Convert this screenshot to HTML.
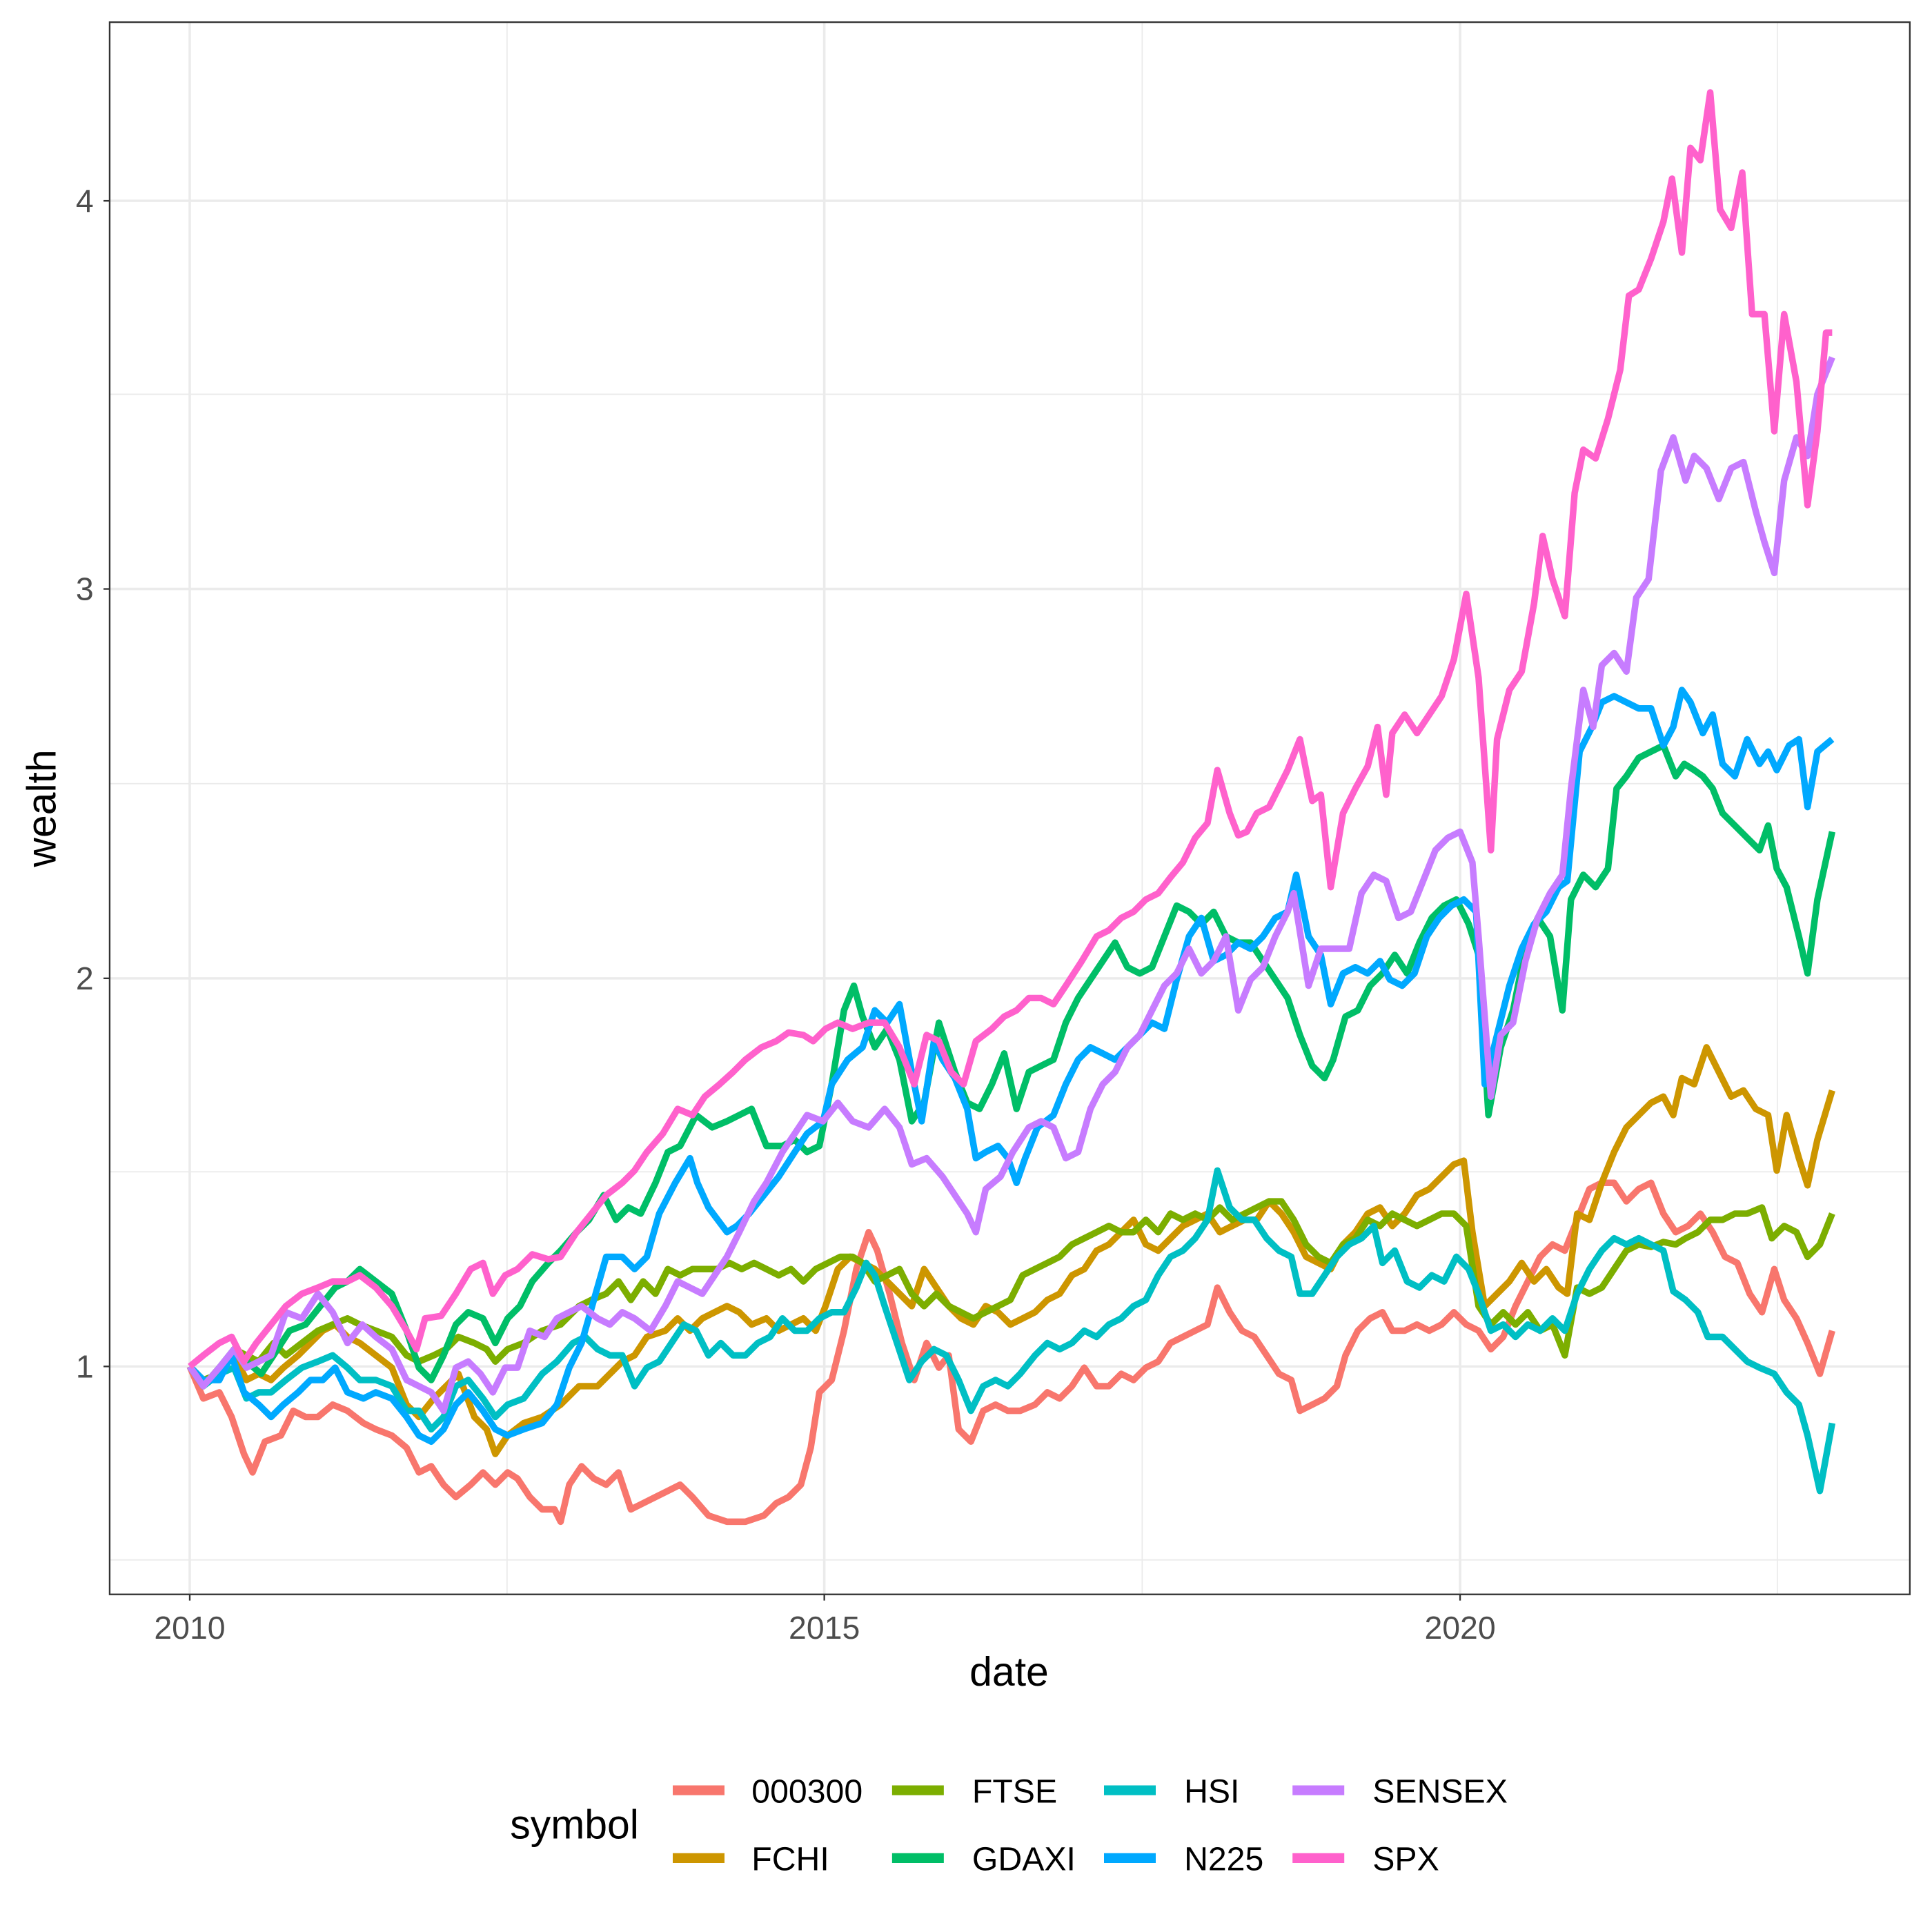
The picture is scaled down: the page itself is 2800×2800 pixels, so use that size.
<!DOCTYPE html>
<html><head><meta charset="utf-8"><style>html,body{margin:0;padding:0;background:#fff}svg{display:block}</style></head><body>
<svg width="2800" height="2800" viewBox="0 0 1568 1568" xmlns="http://www.w3.org/2000/svg" font-family="Liberation Sans, Arial, sans-serif">
<rect width="1568" height="1568" fill="#fff"/>
<g stroke="#ebebeb" stroke-width="1">
<line x1="89" x2="1550" y1="320" y2="320"/><line x1="89" x2="1550" y1="636" y2="636"/><line x1="89" x2="1550" y1="951" y2="951"/><line x1="89" x2="1550" y1="1266" y2="1266"/>
<line y1="18" y2="1294" x1="411.5" x2="411.5"/><line y1="18" y2="1294" x1="927" x2="927"/><line y1="18" y2="1294" x1="1442.5" x2="1442.5"/>
</g>
<g stroke="#ebebeb" stroke-width="2">
<line x1="89" x2="1550" y1="163" y2="163"/><line x1="89" x2="1550" y1="478" y2="478"/><line x1="89" x2="1550" y1="794" y2="794"/><line x1="89" x2="1550" y1="1109" y2="1109"/>
<line y1="18" y2="1294" x1="154" x2="154"/><line y1="18" y2="1294" x1="669" x2="669"/><line y1="18" y2="1294" x1="1185" x2="1185"/>
</g>
<g fill="none" stroke-width="5.3" stroke-linejoin="round" stroke-linecap="butt">
<polyline stroke="#F8766D" points="154,1109 165,1135 178,1130 188,1150 198,1180 205,1195 215,1170 228,1165 238,1145 248,1150 258,1150 270,1140 282,1145 295,1155 305,1160 318,1165 330,1175 340,1195 350,1190 360,1205 370,1215 382,1205 392,1195 402,1205 412,1195 420,1200 430,1215 440,1225 450,1225 455,1235 462,1205 472,1190 482,1200 492,1205 502,1195 512,1225 522,1220 532,1215 542,1210 552,1205 562,1215 575,1230 590,1235 605,1235 620,1230 630,1220 640,1215 650,1205 658,1175 665,1130 675,1120 685,1080 695,1030 705,1000 712,1015 722,1050 732,1090 742,1120 752,1090 762,1110 770,1100 778,1160 788,1170 798,1145 808,1140 818,1145 828,1145 840,1140 850,1130 860,1135 870,1125 880,1110 890,1125 900,1125 910,1115 920,1120 930,1110 940,1105 950,1090 960,1085 970,1080 980,1075 988,1045 998,1065 1008,1080 1018,1085 1028,1100 1038,1115 1048,1120 1055,1145 1065,1140 1075,1135 1085,1125 1092,1100 1102,1080 1112,1070 1122,1065 1130,1080 1140,1080 1150,1075 1160,1080 1170,1075 1180,1065 1190,1075 1200,1080 1210,1095 1220,1085 1230,1060 1240,1040 1250,1020 1260,1010 1270,1015 1280,990 1290,965 1300,960 1310,960 1320,975 1330,965 1340,960 1350,985 1360,1000 1370,995 1380,985 1390,1000 1400,1020 1410,1025 1420,1050 1430,1065 1440,1030 1448,1055 1458,1070 1467,1090 1477,1115 1487,1080"/>
<polyline stroke="#CD9600" points="154,1109 165,1125 178,1110 190,1100 200,1120 210,1115 220,1120 230,1110 242,1100 252,1090 262,1080 272,1075 282,1085 292,1090 305,1100 318,1110 330,1140 340,1150 352,1135 362,1125 372,1115 385,1150 395,1160 402,1180 412,1165 425,1155 440,1150 455,1140 470,1125 485,1125 495,1115 505,1105 515,1100 525,1085 540,1080 550,1070 560,1080 570,1070 580,1065 590,1060 600,1065 610,1075 622,1070 632,1080 642,1075 652,1070 662,1080 670,1060 680,1030 690,1020 700,1025 710,1030 720,1040 730,1050 740,1060 750,1030 760,1045 770,1060 780,1070 790,1075 800,1060 810,1065 820,1075 830,1070 840,1065 850,1055 860,1050 870,1035 880,1030 890,1015 900,1010 910,1000 920,990 930,1010 940,1015 950,1005 960,995 970,990 980,985 990,1000 1000,995 1010,990 1020,990 1030,975 1040,985 1050,1000 1060,1020 1070,1025 1080,1030 1090,1010 1100,1000 1110,985 1120,980 1130,995 1140,985 1150,970 1160,965 1170,955 1180,945 1188,942 1195,1000 1205,1060 1215,1050 1225,1040 1235,1025 1245,1040 1255,1030 1265,1045 1272,1050 1280,985 1290,990 1300,960 1310,935 1320,915 1330,905 1340,895 1350,890 1358,905 1365,875 1375,880 1385,850 1395,870 1405,890 1415,885 1425,900 1435,905 1442,950 1450,905 1460,940 1467,962 1475,925 1487,885"/>
<polyline stroke="#7CAE00" points="154,1109 165,1120 178,1115 190,1095 200,1100 210,1105 222,1090 232,1100 245,1090 258,1080 270,1075 282,1070 292,1075 305,1080 318,1085 330,1100 340,1105 352,1100 362,1095 372,1085 385,1090 395,1095 402,1105 412,1095 425,1090 440,1080 455,1075 470,1060 480,1055 492,1050 502,1040 512,1055 522,1040 532,1050 542,1030 552,1035 562,1030 572,1030 582,1030 592,1025 602,1030 612,1025 622,1030 632,1035 642,1030 652,1040 662,1030 672,1025 682,1020 692,1020 700,1025 710,1040 720,1035 730,1030 740,1050 750,1060 760,1050 770,1060 780,1065 790,1070 800,1065 810,1060 820,1055 830,1035 840,1030 850,1025 860,1020 870,1010 880,1005 890,1000 900,995 910,1000 920,1000 930,990 940,1000 950,985 960,990 970,985 980,990 990,980 1000,990 1010,985 1020,980 1030,975 1040,975 1050,990 1060,1010 1070,1020 1080,1025 1090,1010 1100,1005 1110,990 1120,995 1130,985 1140,990 1150,995 1160,990 1170,985 1180,985 1190,995 1200,1060 1210,1075 1220,1065 1230,1075 1240,1065 1250,1080 1260,1075 1270,1100 1280,1045 1290,1050 1300,1045 1310,1030 1320,1015 1330,1010 1340,1012 1350,1008 1360,1010 1368,1005 1378,1000 1388,990 1398,990 1408,985 1418,985 1430,980 1438,1005 1448,995 1458,1000 1467,1020 1477,1010 1487,985"/>
<polyline stroke="#00BE67" points="154,1109 165,1125 178,1110 190,1095 200,1105 212,1115 222,1100 235,1080 248,1075 260,1060 272,1045 282,1040 292,1030 305,1040 318,1050 330,1080 340,1110 350,1120 360,1100 370,1075 380,1065 392,1070 402,1090 412,1070 422,1060 432,1040 445,1025 455,1015 468,1000 478,990 490,970 500,990 510,980 520,985 532,960 542,935 552,930 565,905 578,915 590,910 600,905 610,900 622,930 635,930 645,925 655,935 665,930 675,880 685,820 693,800 700,825 710,850 720,835 730,860 740,910 750,895 762,830 775,870 785,895 795,900 805,880 815,855 825,900 835,870 845,865 855,860 865,830 875,810 885,795 895,780 905,765 915,785 925,790 935,785 945,760 955,735 965,740 975,750 985,740 995,760 1005,765 1015,765 1025,780 1035,795 1045,810 1055,840 1065,865 1075,875 1082,860 1092,825 1102,820 1112,800 1122,790 1132,775 1142,790 1152,765 1162,745 1172,735 1182,730 1192,750 1200,775 1208,905 1218,850 1228,820 1238,770 1248,745 1258,760 1268,820 1275,730 1285,710 1295,720 1305,705 1312,640 1320,630 1330,615 1340,610 1350,605 1360,630 1367,620 1375,625 1382,630 1390,640 1398,660 1408,670 1418,680 1428,690 1435,670 1442,705 1450,720 1460,760 1467,790 1475,730 1487,675"/>
<polyline stroke="#00BFC4" points="154,1109 165,1125 178,1115 190,1110 200,1135 210,1130 220,1130 232,1120 245,1110 258,1105 270,1100 282,1110 292,1120 305,1120 318,1125 330,1145 340,1145 350,1160 360,1150 370,1125 380,1120 392,1135 402,1150 412,1140 425,1135 440,1115 452,1105 465,1090 475,1085 485,1095 495,1100 505,1100 515,1125 525,1110 535,1105 545,1090 555,1075 565,1080 575,1100 585,1090 595,1100 605,1100 615,1090 625,1085 635,1070 645,1080 655,1080 665,1070 675,1065 685,1065 695,1045 703,1025 710,1035 718,1060 728,1090 738,1120 748,1105 758,1095 768,1100 778,1120 788,1145 798,1125 808,1120 818,1125 828,1115 840,1100 850,1090 860,1095 870,1090 880,1080 890,1085 900,1075 910,1070 920,1060 930,1055 940,1035 950,1020 960,1015 970,1005 980,990 988,950 998,980 1008,990 1018,990 1028,1005 1038,1015 1048,1020 1055,1050 1065,1050 1075,1035 1085,1020 1095,1010 1105,1005 1115,995 1122,1025 1132,1015 1142,1040 1152,1045 1162,1035 1172,1040 1182,1020 1192,1030 1200,1050 1210,1080 1220,1075 1230,1085 1240,1075 1250,1080 1260,1070 1270,1080 1280,1050 1290,1030 1300,1015 1310,1005 1320,1010 1330,1005 1340,1010 1350,1015 1358,1048 1368,1055 1378,1065 1386,1085 1398,1085 1408,1095 1418,1105 1428,1110 1440,1115 1450,1130 1460,1140 1467,1165 1477,1210 1487,1155"/>
<polyline stroke="#00A9FF" points="154,1109 165,1120 178,1120 188,1100 198,1130 210,1140 220,1150 230,1140 242,1130 252,1120 262,1120 272,1110 282,1130 295,1135 305,1130 318,1135 330,1150 340,1165 350,1170 360,1160 370,1140 380,1130 392,1145 402,1160 412,1165 425,1160 440,1155 452,1140 462,1110 472,1090 482,1055 492,1020 505,1020 515,1030 525,1020 535,985 548,960 560,940 566,960 575,980 590,1000 598,995 608,985 620,970 632,955 645,935 655,920 668,910 675,880 688,860 700,850 710,820 720,830 730,815 740,870 748,910 758,845 765,860 775,875 785,900 792,940 800,935 810,930 818,940 825,960 832,940 842,915 855,905 865,880 875,860 885,850 895,855 905,860 915,850 925,840 935,830 945,835 955,795 965,760 975,745 985,780 995,775 1005,765 1015,770 1025,760 1035,745 1045,740 1052,710 1062,760 1072,775 1080,815 1090,790 1100,785 1110,790 1120,780 1128,795 1138,800 1148,790 1158,760 1168,745 1178,735 1188,730 1198,740 1205,880 1215,840 1225,800 1235,770 1245,750 1255,740 1265,720 1272,715 1282,610 1292,590 1300,570 1310,565 1320,570 1330,575 1340,575 1350,605 1358,590 1365,560 1372,570 1382,595 1390,580 1398,620 1408,630 1418,600 1428,620 1435,610 1442,625 1452,605 1460,600 1467,655 1475,610 1487,600"/>
<polyline stroke="#C77CFF" points="154,1109 165,1125 178,1110 190,1095 200,1110 210,1105 220,1100 232,1065 245,1070 258,1050 270,1065 282,1090 294,1075 305,1085 318,1095 330,1120 340,1125 350,1130 360,1145 370,1110 380,1105 390,1115 400,1130 410,1110 420,1110 430,1080 442,1085 452,1070 462,1065 472,1060 485,1070 495,1075 505,1065 515,1070 528,1080 540,1060 550,1040 560,1045 570,1050 580,1035 590,1020 600,1000 612,975 622,960 635,935 645,920 655,905 668,910 680,895 692,910 705,915 718,900 730,915 740,945 752,940 765,955 775,970 785,985 792,1000 800,965 812,955 822,935 835,915 845,910 855,915 865,940 875,935 885,900 895,880 905,870 915,850 925,840 935,820 945,800 955,790 965,770 975,790 985,780 995,760 1005,820 1015,795 1025,785 1035,760 1045,740 1050,725 1062,800 1072,770 1085,770 1095,770 1105,725 1115,710 1125,715 1135,745 1145,740 1155,715 1165,690 1175,680 1185,675 1195,700 1200,760 1210,890 1218,840 1228,830 1238,780 1248,745 1258,725 1268,710 1275,640 1285,560 1293,590 1300,540 1310,530 1320,545 1328,485 1338,470 1348,382 1358,355 1368,390 1375,370 1385,380 1395,405 1405,380 1415,375 1425,415 1432,440 1440,465 1448,390 1458,355 1467,370 1475,320 1487,290"/>
<polyline stroke="#FF61CC" points="154,1109 165,1100 178,1090 188,1085 198,1105 208,1090 220,1075 232,1060 245,1050 258,1045 270,1040 282,1040 292,1035 305,1045 318,1060 330,1080 338,1095 345,1070 358,1068 370,1050 382,1030 392,1025 400,1050 410,1035 420,1030 432,1018 445,1022 455,1020 468,1000 480,985 492,970 505,960 515,950 525,935 538,920 550,900 562,905 572,890 584,880 595,870 605,860 618,850 630,845 640,838 652,840 660,845 670,835 680,830 692,835 705,830 718,830 730,850 742,880 752,840 762,845 772,870 782,880 792,845 805,835 815,825 825,820 835,810 845,810 855,815 865,800 878,780 890,760 900,755 910,745 920,740 930,730 940,725 950,712 960,700 970,680 980,668 988,625 998,660 1005,678 1012,675 1020,660 1030,655 1045,625 1055,600 1065,650 1072,645 1080,720 1090,660 1100,640 1110,622 1118,590 1125,645 1130,595 1140,580 1150,595 1160,580 1170,565 1180,535 1190,482 1200,550 1210,690 1215,600 1225,560 1235,545 1245,490 1252,435 1260,470 1270,500 1278,400 1285,365 1295,372 1305,340 1315,300 1322,240 1330,235 1340,210 1350,180 1357,145 1365,205 1372,120 1380,130 1388,75 1396,170 1405,185 1414,140 1422,255 1432,255 1440,350 1448,255 1458,310 1467,410 1475,350 1482,270 1487,270"/>
</g>
<rect x="89" y="18" width="1461" height="1276" fill="none" stroke="#333" stroke-width="1.3"/>
<g stroke="#333" stroke-width="1.3">
<line x1="84" x2="89" y1="163" y2="163"/><line x1="84" x2="89" y1="478" y2="478"/><line x1="84" x2="89" y1="794" y2="794"/><line x1="84" x2="89" y1="1109" y2="1109"/>
<line y1="1294" y2="1299" x1="154" x2="154"/><line y1="1294" y2="1299" x1="669" x2="669"/><line y1="1294" y2="1299" x1="1185" x2="1185"/>
</g>
<g fill="#4d4d4d" font-size="26" text-anchor="end">
<text x="76" y="172">4</text><text x="76" y="487">3</text><text x="76" y="803">2</text><text x="76" y="1118">1</text>
</g>
<g fill="#4d4d4d" font-size="26" text-anchor="middle">
<text x="154" y="1330">2010</text><text x="669" y="1330">2015</text><text x="1185" y="1330">2020</text>
</g>
<text x="819" y="1368" font-size="33" text-anchor="middle" fill="#000">date</text>
<text transform="translate(45,656) rotate(-90)" font-size="33" text-anchor="middle" fill="#000">wealth</text>
<text x="414" y="1492" font-size="33" fill="#000">symbol</text>
<g stroke-width="8">
<line x1="546" x2="588" y1="1453" y2="1453" stroke="#F8766D"/>
<line x1="546" x2="588" y1="1508" y2="1508" stroke="#CD9600"/>
<line x1="724" x2="766" y1="1453" y2="1453" stroke="#7CAE00"/>
<line x1="724" x2="766" y1="1508" y2="1508" stroke="#00BE67"/>
<line x1="896" x2="938" y1="1453" y2="1453" stroke="#00BFC4"/>
<line x1="896" x2="938" y1="1508" y2="1508" stroke="#00A9FF"/>
<line x1="1049" x2="1091" y1="1453" y2="1453" stroke="#C77CFF"/>
<line x1="1049" x2="1091" y1="1508" y2="1508" stroke="#FF61CC"/>
</g>
<g font-size="27" fill="#000">
<text x="610" y="1463">000300</text><text x="610" y="1518">FCHI</text>
<text x="789" y="1463">FTSE</text><text x="789" y="1518">GDAXI</text>
<text x="961" y="1463">HSI</text><text x="961" y="1518">N225</text>
<text x="1114" y="1463">SENSEX</text><text x="1114" y="1518">SPX</text>
</g>
</svg>
</body></html>
